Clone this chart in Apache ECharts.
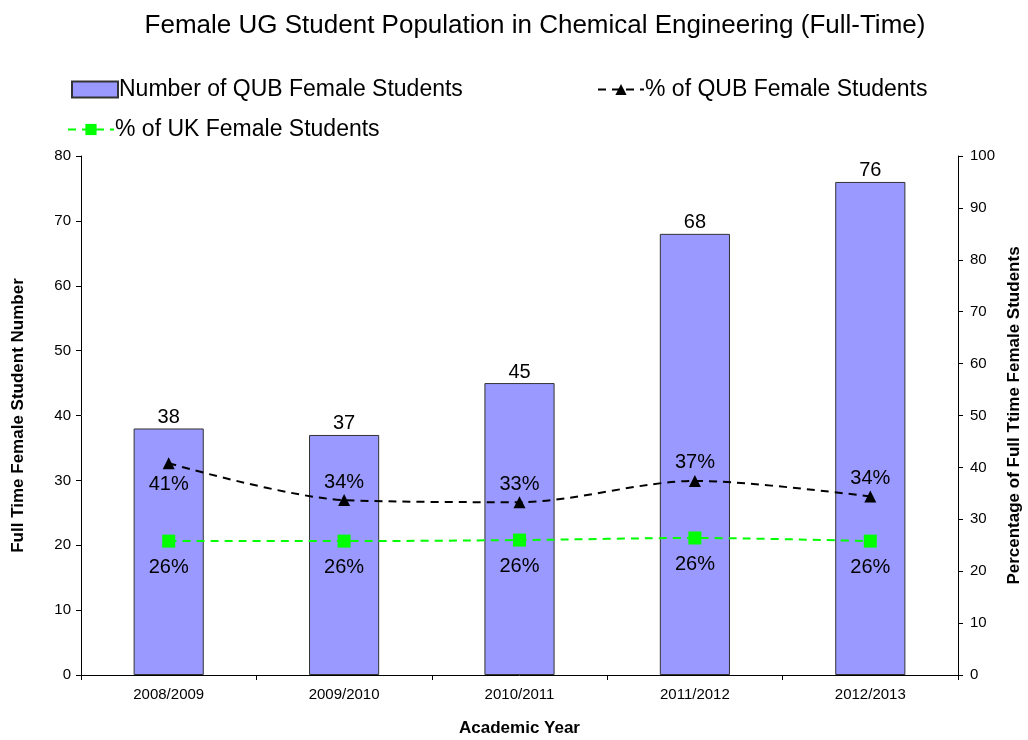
<!DOCTYPE html>
<html>
<head>
<meta charset="utf-8">
<script src="https://cdn.jsdelivr.net/npm/echarts@6/dist/echarts.min.js"></script>
<style>
    html, body { margin: 0; padding: 0; background: #fff; }
    #chart { width: 1028px; height: 740px; }
</style>
</head>
<body>
<div id="chart"></div>
<script>
    // data
    const years = [ '2008/2009', '2009/2010', '2010/2011', '2011/2012', '2012/2013' ];
    const qubCount = [ 38, 37, 45, 68, 76 ];
    const qubPercent = [ 40.8, 33.7, 33.3, 37.4, 34.4 ];
    const ukPercent = [ 25.8, 25.8, 26.0, 26.4, 25.8 ];
    // first QUB % label sits under its point, the rest above
    const qubLabelPos = [ 'bottom', 'top', 'top', 'top', 'top' ];

    const font = 'Liberation Sans, Arial, sans-serif';
    const chart = echarts.init( document.getElementById( 'chart' ) );

    chart.setOption( {
        backgroundColor: '#FFFFFF',
        textStyle: { fontFamily: font },
        title: {
            text: 'Female UG Student Population in Chemical Engineering (Full-Time)',
            left: 530,
            textAlign: 'center',
            top: 8,
            textStyle: { fontSize: 26, fontWeight: 'normal', color: '#000', fontFamily: font }
        },
        legend: [
            {
                data: [ 'Number of QUB Female Students' ],
                left: 66, top: 73,
                icon: 'rect',
                itemWidth: 46, itemHeight: 16, itemGap: 4,
                textStyle: { fontSize: 23, color: '#000', fontFamily: font, padding: [ 0, 0, 0, -4 ] }
            },
            {
                data: [ '% of QUB Female Students' ],
                left: 592, top: 73,
                itemWidth: 46, itemHeight: 14,
                textStyle: { fontSize: 23, color: '#000', fontFamily: font, padding: [ 0, 0, 0, -4 ] }
            },
            {
                data: [ '% of UK Female Students' ],
                left: 62, top: 113,
                itemWidth: 46, itemHeight: 14,
                textStyle: { fontSize: 23, color: '#000', fontFamily: font, padding: [ 0, 0, 0, -4 ] }
            }
        ],
        grid: { left: 81, right: 70, top: 156, bottom: 65, outerBoundsMode: 'none' },
        xAxis: {
            type: 'category',
            data: years,
            name: 'Academic Year',
            nameLocation: 'middle',
            nameGap: 45,
            nameTextStyle: { fontSize: 17, fontWeight: 'bold', color: '#000' },
            axisLine: { lineStyle: { color: '#000' } },
            axisTick: { show: true, length: 5, lineStyle: { color: '#000' } },
            axisLabel: { fontSize: 15, color: '#000', margin: 12 }
        },
        yAxis: [
            {
                type: 'value',
                min: 0, max: 80, interval: 10,
                name: 'Full Time Female Student Number',
                nameLocation: 'middle',
                nameGap: 54,
                nameTextStyle: { fontSize: 17, fontWeight: 'bold', color: '#000' },
                axisLine: { show: true, lineStyle: { color: '#000' } },
                axisTick: { show: true, length: 5, lineStyle: { color: '#000' } },
                axisLabel: { fontSize: 15, color: '#000', margin: 10 },
                splitLine: { show: false }
            },
            {
                type: 'value',
                min: 0, max: 100, interval: 10,
                name: 'Percentage of Full Ttime Female Students',
                nameLocation: 'middle',
                nameGap: 48,
                nameRotate: 90,
                nameTextStyle: { fontSize: 17, fontWeight: 'bold', color: '#000' },
                axisLine: { show: true, lineStyle: { color: '#000' } },
                axisTick: { show: true, length: 5, inside: false, lineStyle: { color: '#000' } },
                axisLabel: { fontSize: 15, color: '#000', margin: 12 },
                splitLine: { show: false }
            }
        ],
        series: [
            {
                name: 'Number of QUB Female Students',
                type: 'bar',
                barWidth: '40%',
                data: qubCount,
                itemStyle: { color: '#9999FF', borderColor: '#333', borderWidth: 1 },
                label: { show: true, position: 'top', distance: 1, fontSize: 20, color: '#000' },
                z: 1
            },
            {
                name: '% of QUB Female Students',
                type: 'line',
                yAxisIndex: 1,
                smooth: 0.3,
                symbol: 'triangle',
                symbolSize: 12,
                data: qubPercent.map( ( v, i ) => ( {
                    value: v,
                    label: { position: qubLabelPos[ i ], distance: i === 0 ? 5 : 2 }
                } ) ),
                lineStyle: { color: '#000', width: 2, type: [ 8, 6 ] },
                itemStyle: { color: '#000' },
                label: {
                    show: true, fontSize: 20, color: '#000',
                    formatter: p => Math.round( p.value ) + '%'
                },
                z: 3
            },
            {
                name: '% of UK Female Students',
                type: 'line',
                yAxisIndex: 1,
                smooth: 0.3,
                symbol: 'rect',
                symbolSize: 13,
                data: ukPercent,
                lineStyle: { color: '#00FF00', width: 2, type: [ 8, 6 ] },
                itemStyle: { color: '#00FF00' },
                label: {
                    show: true, position: 'bottom', fontSize: 20, color: '#000', distance: 10,
                    formatter: p => Math.round( p.value ) + '%'
                },
                z: 3
            }
        ]
    } );
</script>
</body>
</html>
